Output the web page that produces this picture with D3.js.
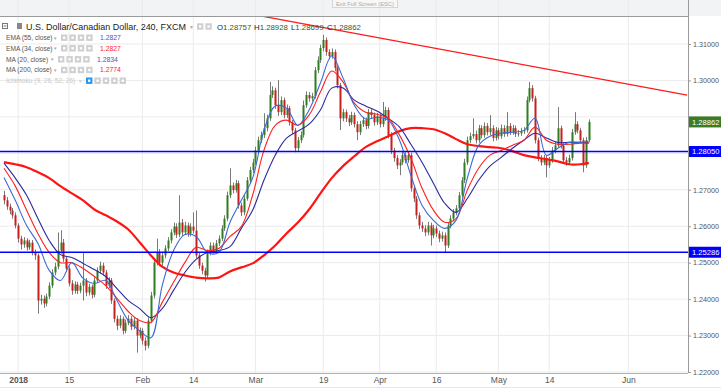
<!DOCTYPE html>
<html>
<head>
<meta charset="utf-8">
<script src="https://cdn.jsdelivr.net/npm/d3@7"></script>
<style>
  body { margin: 0; background: #fff; }
  svg { display: block; font-family: "Liberation Sans", Arial, sans-serif; }
</style>
</head>
<body>
<svg id="chart" width="721" height="392"></svg>
<script>
const firstOpen = 1.2685;
const closes = [
  1.2671,1.2654,1.2643,1.2630,1.2602,1.2566,1.2550,1.2561,1.2542,1.2555,
  1.2528,1.2520,1.2396,1.2401,1.2388,1.2407,1.2437,1.2473,1.2489,1.2533,
  1.2555,1.2511,1.2484,1.2443,1.2423,1.2440,1.2423,1.2437,1.2451,1.2418,
  1.2434,1.2412,1.2451,1.2478,1.2492,1.2473,1.2437,1.2451,1.2396,1.2346,
  1.2327,1.2346,1.2313,1.2335,1.2346,1.2324,1.2341,1.2300,1.2313,1.2286,
  1.2272,1.2341,1.2410,1.2500,1.2528,1.2500,1.2520,1.2539,1.2561,1.2583,
  1.2599,1.2577,1.2610,1.2583,1.2602,1.2580,1.2599,1.2588,1.2520,1.2492,
  1.2478,1.2465,1.2528,1.2547,1.2533,1.2553,1.2566,1.2594,1.2621,1.2685,
  1.2712,1.2699,1.2718,1.2657,1.2638,1.2676,1.2726,1.2754,1.2775,1.2808,
  1.2836,1.2850,1.2869,1.2896,1.2960,1.2973,1.2932,1.2913,1.2946,1.2905,
  1.2924,1.2885,1.2863,1.2814,1.2836,1.2850,1.2932,1.2960,1.2951,1.2957,
  1.3028,1.3056,1.3089,1.3111,1.3078,1.3067,1.3078,1.3034,1.2987,1.2896,
  1.2913,1.2896,1.2885,1.2905,1.2880,1.2858,1.2880,1.2891,1.2875,1.2913,
  1.2905,1.2885,1.2902,1.2880,1.2896,1.2919,1.2850,1.2808,1.2787,1.2767,
  1.2775,1.2795,1.2781,1.2795,1.2704,1.2676,1.2630,1.2602,1.2594,1.2583,
  1.2602,1.2575,1.2594,1.2580,1.2566,1.2575,1.2547,1.2602,1.2621,1.2638,
  1.2649,1.2685,1.2726,1.2775,1.2836,1.2847,1.2853,1.2836,1.2869,1.2850,
  1.2875,1.2858,1.2869,1.2842,1.2863,1.2847,1.2869,1.2853,1.2875,1.2858,
  1.2869,1.2853,1.2855,1.2861,1.2863,1.2946,1.2979,1.2951,1.2836,1.2787,
  1.2775,1.2787,1.2767,1.2781,1.2808,1.2822,1.2869,1.2822,1.2781,1.2775,
  1.2787,1.2858,1.2880,1.2863,1.2836,1.2767,1.2836,1.2886
];
const highs = [
  1.2697,1.2680,1.2662,1.2650,1.2638,1.2608,1.2574,1.2570,1.2567,1.2563,
  1.2562,1.2536,1.2525,1.2412,1.2410,1.2415,1.2446,1.2482,1.2500,1.2583,
  1.2589,1.2565,1.2518,1.2490,1.2452,1.2449,1.2447,1.2445,1.2528,1.2458,
  1.2442,1.2440,1.2460,1.2487,1.2503,1.2500,1.2480,1.2460,1.2458,1.2402,
  1.2355,1.2356,1.2352,1.2344,1.2356,1.2353,1.2350,1.2348,1.2322,1.2320,
  1.2295,1.2350,1.2420,1.2510,1.2566,1.2537,1.2530,1.2548,1.2570,1.2592,
  1.2610,1.2608,1.2685,1.2620,1.2612,1.2610,1.2608,1.2638,1.2643,1.2528,
  1.2500,1.2486,1.2536,1.2556,1.2555,1.2562,1.2575,1.2603,1.2630,1.2695,
  1.2759,1.2720,1.2727,1.2725,1.2665,1.2685,1.2735,1.2763,1.2785,1.2818,
  1.2846,1.2860,1.2910,1.2906,1.2996,1.2984,1.2980,1.3001,1.2956,1.2953,
  1.2934,1.2930,1.2892,1.2870,1.2845,1.2860,1.2945,1.2970,1.2968,1.2966,
  1.3037,1.3066,1.3098,1.3125,1.3118,1.3086,1.3088,1.3085,1.3040,1.2993,
  1.2922,1.2920,1.2905,1.2914,1.2912,1.2888,1.2889,1.2900,1.2898,1.2922,
  1.2921,1.2912,1.2911,1.2909,1.2941,1.2928,1.2926,1.2858,1.2815,1.2795,
  1.2784,1.2804,1.2803,1.2805,1.2802,1.2712,1.2683,1.2638,1.2612,1.2603,
  1.2612,1.2610,1.2604,1.2602,1.2588,1.2585,1.2583,1.2611,1.2630,1.2647,
  1.2658,1.2694,1.2735,1.2785,1.2846,1.2857,1.2896,1.2862,1.2878,1.2877,
  1.2885,1.2883,1.2905,1.2877,1.2872,1.2870,1.2879,1.2877,1.2913,1.2883,
  1.2878,1.2876,1.2864,1.2870,1.2872,1.2956,1.2996,1.2987,1.2958,1.2843,
  1.2795,1.2796,1.2795,1.2790,1.2817,1.2832,1.2927,1.2876,1.2828,1.2790,
  1.2796,1.2867,1.2913,1.2888,1.2870,1.2843,1.2845,1.2893
];
const lows = [
  1.2660,1.2645,1.2633,1.2621,1.2594,1.2555,1.2536,1.2541,1.2533,1.2535,
  1.2520,1.2508,1.2360,1.2385,1.2376,1.2380,1.2400,1.2430,1.2465,1.2482,
  1.2525,1.2502,1.2475,1.2435,1.2412,1.2415,1.2414,1.2416,1.2396,1.2408,
  1.2410,1.2402,1.2405,1.2445,1.2470,1.2465,1.2428,1.2430,1.2387,1.2336,
  1.2315,1.2320,1.2303,1.2306,1.2328,1.2315,1.2317,1.2253,1.2292,1.2275,
  1.2259,1.2265,1.2335,1.2402,1.2492,1.2490,1.2492,1.2512,1.2532,1.2553,
  1.2575,1.2568,1.2570,1.2574,1.2576,1.2571,1.2572,1.2580,1.2511,1.2483,
  1.2468,1.2448,1.2458,1.2520,1.2525,1.2526,1.2546,1.2559,1.2587,1.2614,
  1.2677,1.2690,1.2692,1.2648,1.2628,1.2630,1.2670,1.2718,1.2746,1.2768,
  1.2800,1.2828,1.2842,1.2860,1.2889,1.2952,1.2922,1.2903,1.2905,1.2896,
  1.2897,1.2876,1.2853,1.2803,1.2806,1.2828,1.2843,1.2925,1.2942,1.2943,
  1.2950,1.3020,1.3048,1.3080,1.3068,1.3058,1.3060,1.3025,1.2978,1.2864,
  1.2888,1.2886,1.2875,1.2878,1.2871,1.2836,1.2850,1.2872,1.2866,1.2868,
  1.2896,1.2876,1.2878,1.2871,1.2872,1.2889,1.2841,1.2798,1.2777,1.2757,
  1.2740,1.2768,1.2772,1.2774,1.2695,1.2666,1.2620,1.2592,1.2584,1.2573,
  1.2575,1.2547,1.2567,1.2570,1.2556,1.2558,1.2528,1.2540,1.2594,1.2613,
  1.2630,1.2641,1.2678,1.2718,1.2768,1.2828,1.2840,1.2827,1.2829,1.2841,
  1.2843,1.2849,1.2850,1.2833,1.2835,1.2838,1.2840,1.2845,1.2846,1.2850,
  1.2851,1.2845,1.2846,1.2848,1.2853,1.2857,1.2940,1.2942,1.2827,1.2778,
  1.2766,1.2768,1.2734,1.2760,1.2774,1.2800,1.2815,1.2813,1.2772,1.2766,
  1.2768,1.2780,1.2851,1.2855,1.2827,1.2748,1.2760,1.2830
];

// indicator lines, read at every 4th bar
const maIdx = [0,4,8,12,16,20,24,28,32,36,40,44,48,52,56,60,64,68,72,76,80,84,88,92,96,100,
  104,108,112,116,120,124,128,132,136,140,144,148,152,156,160,164,168,172,176,180,184,188,192,196,200,204,207];
const ema55 = [1.2773,1.2732,1.2685,1.2621,1.2561,1.2522,1.2514,1.2498,1.2481,1.2462,
  1.2429,1.2396,1.2374,1.2349,1.2374,1.2424,1.2473,1.2509,1.2528,1.2533,
  1.2544,1.2594,1.2644,1.2726,1.2795,1.2842,1.2861,1.2880,1.2919,1.2979,
  1.2979,1.2946,1.2930,1.2916,1.2896,1.2872,1.2825,1.2775,1.2718,1.2663,
  1.2638,1.2676,1.2726,1.2765,1.2789,1.2814,1.2836,1.2855,1.2842,1.2830,
  1.2830,1.2830,1.2828];
const ema34 = [1.2759,1.2710,1.2644,1.2580,1.2528,1.2500,1.2500,1.2484,1.2462,1.2437,
  1.2402,1.2366,1.2341,1.2336,1.2391,1.2446,1.2500,1.2542,1.2533,1.2539,
  1.2572,1.2599,1.2685,1.2808,1.2877,1.2891,1.2877,1.2905,1.2968,1.3026,
  1.2996,1.2938,1.2913,1.2907,1.2896,1.2850,1.2787,1.2704,1.2644,1.2611,
  1.2621,1.2699,1.2759,1.2795,1.2808,1.2822,1.2836,1.2872,1.2836,1.2825,
  1.2825,1.2828,1.2828];
const ma20 = [1.2734,1.2671,1.2602,1.2553,1.2479,1.2451,1.2500,1.2457,1.2443,1.2451,
  1.2396,1.2341,1.2314,1.2294,1.2437,1.2533,1.2577,1.2572,1.2528,1.2528,
  1.2611,1.2671,1.2732,1.2863,1.2930,1.2924,1.2877,1.2919,1.2993,1.3067,
  1.3007,1.2932,1.2894,1.2899,1.2891,1.2836,1.2740,1.2657,1.2616,1.2594,
  1.2616,1.2732,1.2822,1.2847,1.2855,1.2858,1.2863,1.2896,1.2795,1.2814,
  1.2830,1.2830,1.2833];
const ma200 = [1.2776,1.2770,1.2762,1.2748,1.2732,1.2710,1.2690,1.2671,1.2646,1.2630,
  1.2613,1.2591,1.2556,1.2520,1.2489,1.2473,1.2465,1.2459,1.2457,1.2459,
  1.2476,1.2487,1.2498,1.2520,1.2547,1.2580,1.2610,1.2646,1.2690,1.2732,
  1.2765,1.2792,1.2817,1.2833,1.2847,1.2861,1.2869,1.2869,1.2866,1.2855,
  1.2839,1.2825,1.2820,1.2817,1.2814,1.2806,1.2795,1.2789,1.2784,1.2778,
  1.2770,1.2770,1.2774];

const levels = [1.28050, 1.25286];
const trendIdx = [104.8, 241.8];
const trendPrice = [1.3157, 1.2960];
const priceTicks = [1.22, 1.23, 1.24, 1.25, 1.26, 1.27, 1.28, 1.29, 1.30, 1.31];
const dateTickIdx = [5, 23, 49, 67, 89, 113, 133, 153, 175, 193, 221];
const dateTickLabels = ["2018", "15", "Feb", "14", "Mar", "19", "Apr", "16", "May", "14", "Jun"];
const lastPrice = 1.28862;

const svg = d3.select("#chart");
const plotR = 688, plotT = 16, plotB = 373;
const font = "'Liberation Sans', Arial, sans-serif";

const x = d3.scaleLinear().domain([0, closes.length - 1]).range([4, 588.8]);
const y = d3.scaleLinear().domain([1.22, 1.31]).range([372, 44]);

// top strip
svg.append("rect").attr("x", 0).attr("y", 0).attr("width", 721).attr("height", plotT)
  .attr("fill", "#f2f3f5");

svg.append("defs").append("clipPath").attr("id", "plotclip")
  .append("rect").attr("x", 0).attr("y", plotT).attr("width", plotR).attr("height", plotB - plotT);

// grid
const grid = svg.append("g");
grid.selectAll(".vg").data(dateTickIdx).join("line")
  .attr("x1", d => x(d)).attr("x2", d => x(d)).attr("y1", 0).attr("y2", plotB)
  .attr("stroke", "#ebebeb").attr("stroke-width", 1);
grid.selectAll(".hg").data(priceTicks).join("line")
  .attr("x1", 0).attr("x2", plotR).attr("y1", d => y(d)).attr("y2", d => y(d))
  .attr("stroke", "#ebebeb").attr("stroke-width", 1);

const plot = svg.append("g").attr("clip-path", "url(#plotclip)");

// candles
const bars = closes.map((c, i) => ({
  i, c, h: highs[i], l: lows[i], o: i === 0 ? firstOpen : closes[i - 1]
}));
plot.append("g").selectAll("line").data(bars).join("line")
  .attr("x1", d => Math.round(x(d.i)) + 0.5).attr("x2", d => Math.round(x(d.i)) + 0.5)
  .attr("y1", d => y(d.h)).attr("y2", d => y(d.l))
  .attr("stroke", "#7a7a7a").attr("stroke-width", 1);
plot.append("g").selectAll("rect").data(bars).join("rect")
  .attr("x", d => Math.round(x(d.i)) - 0.5)
  .attr("width", 2)
  .attr("y", d => y(Math.max(d.o, d.c)))
  .attr("height", d => Math.max(1, Math.abs(y(d.o) - y(d.c))))
  .attr("fill", d => d.c >= d.o ? "#2f7d1f" : "#c81e1e");

// indicator lines
const maLine = vals => d3.line()
  .x((d, j) => x(maIdx[j])).y(d => y(d))
  .curve(d3.curveCatmullRom.alpha(0.5))(vals);
plot.append("path").attr("d", maLine(ma200)).attr("fill", "none")
  .attr("stroke", "#ff1414").attr("stroke-width", 2.2);
plot.append("path").attr("d", maLine(ema55)).attr("fill", "none")
  .attr("stroke", "#2a2a9e").attr("stroke-width", 1.1);
plot.append("path").attr("d", maLine(ema34)).attr("fill", "none")
  .attr("stroke", "#ff2020").attr("stroke-width", 1.1);
plot.append("path").attr("d", maLine(ma20)).attr("fill", "none")
  .attr("stroke", "#3a6ad4").attr("stroke-width", 1.1);

// horizontal levels
plot.selectAll(".lvl").data(levels).join("line")
  .attr("x1", 0).attr("x2", plotR).attr("y1", d => y(d)).attr("y2", d => y(d))
  .attr("stroke", "#0000ff").attr("stroke-width", 1.3);

// trend line
const tSlope = (trendPrice[1] - trendPrice[0]) / (trendIdx[1] - trendIdx[0]);
const tStart = 80, tEnd = trendIdx[1];
plot.append("line")
  .attr("x1", x(tStart)).attr("y1", y(trendPrice[0] + (tStart - trendIdx[0]) * tSlope))
  .attr("x2", x(tEnd)).attr("y2", y(trendPrice[1]))
  .attr("stroke", "#ff1a1a").attr("stroke-width", 1.3);

// frame lines
svg.append("line").attr("x1", 0).attr("x2", plotR).attr("y1", plotT + 0.5).attr("y2", plotT + 0.5)
  .attr("stroke", "#9a9a9a");
svg.append("line").attr("x1", plotR + 0.5).attr("x2", plotR + 0.5).attr("y1", 0).attr("y2", plotB)
  .attr("stroke", "#9a9a9a");
svg.append("line").attr("x1", 0).attr("x2", plotR).attr("y1", plotB + 0.5).attr("y2", plotB + 0.5)
  .attr("stroke", "#b0b0b0");
svg.append("line").attr("x1", 0).attr("x2", 721).attr("y1", 387.5).attr("y2", 387.5)
  .attr("stroke", "#e6e6e6");

// right price axis (labels under the price tags are hidden by them, as in TradingView)
const tagged = [lastPrice, ...levels];
const yAxis = svg.append("g").attr("transform", `translate(${plotR},0)`)
  .call(d3.axisRight(y).tickValues(priceTicks).tickFormat(d3.format(".5f")).tickSize(3).tickPadding(2));
yAxis.select(".domain").remove();
yAxis.selectAll("line").attr("stroke", "#999");
yAxis.selectAll("text").attr("fill", "#555").style("font-size", "7.2px").style("font-family", font)
  .style("display", d => tagged.some(p => Math.abs(y(p) - y(d)) < 7) ? "none" : null);

// bottom date axis
const xAxis = svg.append("g").attr("transform", `translate(0,${plotB})`)
  .call(d3.axisBottom(x).tickValues(dateTickIdx).tickFormat((d, j) => dateTickLabels[j]).tickSize(0).tickPadding(4));
xAxis.select(".domain").remove();
xAxis.selectAll("text").attr("fill", "#555").style("font-size", "8.5px").style("font-family", font)
  .style("font-weight", (d, j) => j === 0 ? "bold" : "normal");

// price labels on axis
const tags = [
  { p: lastPrice, fill: "#3c7a23" },
  { p: levels[0], fill: "#0000ff" },
  { p: levels[1], fill: "#0000ff" }
];
const tagG = svg.append("g").selectAll("g").data(tags).join("g")
  .attr("transform", d => `translate(${plotR + 1},${y(d.p)})`);
tagG.append("rect").attr("x", 0).attr("y", -5.5).attr("width", 32).attr("height", 11).attr("fill", d => d.fill);
tagG.append("text").attr("x", 3).attr("y", 2.8).attr("fill", "#fff").style("font-size", "7.6px")
  .text(d => d3.format(".5f")(d.p));

// legend
const leg = svg.append("g");
leg.append("rect").attr("x", 2.5).attr("y", 23.5).attr("width", 5).attr("height", 5)
  .attr("fill", "none").attr("stroke", "#777");
leg.append("line").attr("x1", 3.5).attr("x2", 6.5).attr("y1", 26).attr("y2", 26).attr("stroke", "#777");
leg.append("rect").attr("x", 17).attr("y", 23).attr("width", 5).attr("height", 6).attr("fill", "#888");
leg.append("text").attr("x", 26).attr("y", 30).attr("fill", "#222").style("font-size", "9px")
  .attr("textLength", 160).attr("lengthAdjust", "spacingAndGlyphs")
  .text("U.S. Dollar/Canadian Dollar, 240, FXCM");
leg.append("text").attr("x", 189).attr("y", 29).attr("fill", "#aaa").style("font-size", "5px").text("▼");

function icons(x0, yc, n, firstBlue) {
  for (let k = 0; k < n; k++) {
    leg.append("rect").attr("x", x0 + k * 8.4).attr("y", yc - 3.2).attr("width", 6.4).attr("height", 6.4)
      .attr("fill", firstBlue && k === 0 ? "#2196f3" : "#cfcfcf");
    leg.append("rect").attr("x", x0 + k * 8.4 + 2).attr("y", yc - 1.2).attr("width", 2.4).attr("height", 2.4)
      .attr("fill", "#fff");
  }
}
icons(197, 26.5, 2, false);
const ohlcLabels = ["O", "H", "L", "C"];
const ohlcVals = ["1.28757", "1.28928", "1.28699", "1.28862"];
const ohlcX = [217, 254, 291, 327];
ohlcLabels.forEach((lab, j) => {
  const t = leg.append("text").attr("x", ohlcX[j]).attr("y", 30).style("font-size", "7.8px").attr("fill", "#222");
  t.append("tspan").text(lab);
  t.append("tspan").attr("fill", "#2d5a2d").text(ohlcVals[j]);
});

const rowNames = ["EMA (55, close)", "EMA (34, close)", "MA (20, close)", "MA (200, close)"];
const rowVals = ["1.2827", "1.2827", "1.2834", "1.2774"];
const rowColors = ["#4a56c0", "#ff2020", "#4a56c0", "#ff2020"];
const rowIconX = [61, 61, 58, 61];
const rowValX = [100, 100, 97, 100];
const rowY = [37.7, 48.3, 59.3, 70];
rowNames.forEach((nm, j) => {
  leg.append("text").attr("x", 6).attr("y", rowY[j] + 2.4).attr("fill", "#555").style("font-size", "6.6px").text(nm);
  leg.append("text").attr("x", rowIconX[j] - 8).attr("y", rowY[j] + 1.8).attr("fill", "#aaa").style("font-size", "4.5px").text("▼");
  icons(rowIconX[j], rowY[j], 4, false);
  leg.append("text").attr("x", rowValX[j]).attr("y", rowY[j] + 2.4).attr("fill", rowColors[j])
    .style("font-size", "6.8px").text(rowVals[j]);
});
leg.append("text").attr("x", 6).attr("y", 83.1).attr("fill", "#c8c8c8").style("font-size", "6.6px")
  .text("Ichimoku (9, 26, 52, 26)");
leg.append("text").attr("x", 78).attr("y", 82.5).attr("fill", "#ccc").style("font-size", "4.5px").text("▼");
icons(86, 80.7, 5, true);

// full screen hint
svg.append("rect").attr("x", 332.5).attr("y", -1).attr("width", 65).attr("height", 8.5)
  .attr("fill", "#f7f7f7").attr("stroke", "#d6d6d6");
svg.append("text").attr("x", 365).attr("y", 5.5).attr("text-anchor", "middle")
  .attr("fill", "#aaa").style("font-size", "5.8px").text("Exit Full Screen (ESC)");
</script>
</body>
</html>
